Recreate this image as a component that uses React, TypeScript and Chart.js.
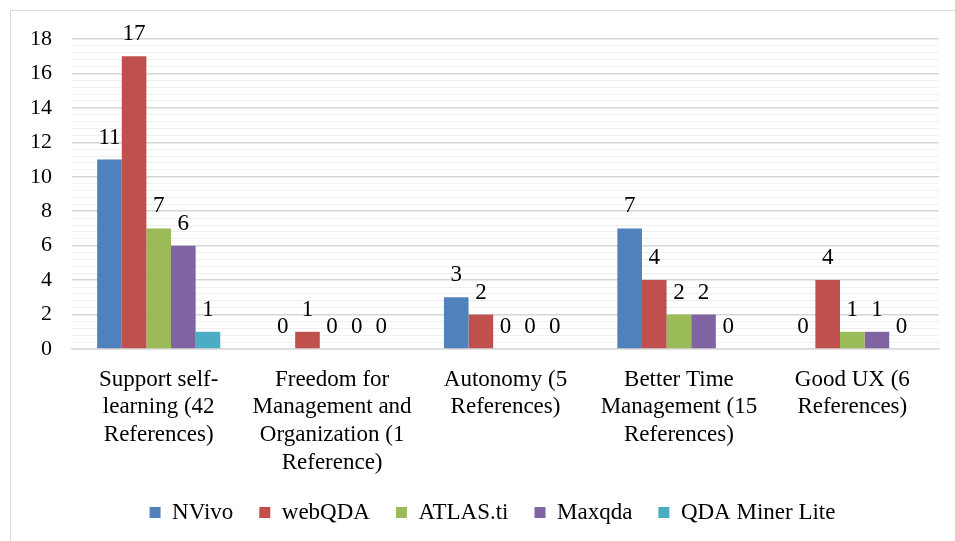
import React, { useEffect, useRef } from "react";
import { Chart, registerables } from "chart.js";

Chart.register(...registerables);

const categories: string[][] = [
  ["Support self-", "learning (42", "References)"],
  ["Freedom for", "Management and", "Organization (1", "Reference)"],
  ["Autonomy (5", "References)"],
  ["Better Time", "Management (15", "References)"],
  ["Good UX (6", "References)"],
];
const seriesNames = ["NVivo", "webQDA", "ATLAS.ti", "Maxqda", "QDA Miner Lite"];
const nvivo = [11, 0, 3, 7, 0];
const webqda = [17, 1, 2, 4, 4];
const atlas = [7, 0, 0, 2, 1];
const maxqda = [6, 0, 0, 2, 1];
const qdaMiner = [1, 0, 0, 0, 0];
const colors = ["#4F81BD", "#C0504D", "#9BBB59", "#8064A2", "#4BACC6"];
const yMin = 0;
const yMax = 18;
const minorStep = 0.4;
const majorStep = 2;

const FONT = "'Liberation Serif', 'Times New Roman', serif";

const isMajor = (v: number) => Math.abs(v / majorStep - Math.round(v / majorStep)) < 1e-6;

const valueLabels = {
  id: "valueLabels",
  afterDatasetsDraw(chart: any) {
    const ctx = chart.ctx;
    ctx.save();
    ctx.font = `23px ${FONT}`;
    ctx.fillStyle = "#000";
    ctx.textAlign = "center";
    ctx.textBaseline = "alphabetic";
    chart.data.datasets.forEach((ds: any, i: number) => {
      const meta = chart.getDatasetMeta(i);
      meta.data.forEach((bar: any, j: number) => {
        ctx.fillText(String(ds.data[j]), bar.x, bar.y - 16);
      });
    });
    ctx.restore();
  },
};

const legendShift = {
  id: "legendShift",
  afterLayout(chart: any) {
    if (chart.legend) {
      chart.legend.left += 18;
      chart.legend.right += 18;
    }
  },
};

export default function App() {
  const ref = useRef<HTMLCanvasElement>(null);
  useEffect(() => {
    if (!ref.current) return;
    const all = [nvivo, webqda, atlas, maxqda, qdaMiner];
    const chart = new Chart(ref.current, {
      type: "bar",
      data: {
        labels: categories,
        datasets: all.map((d, i) => ({
          label: seriesNames[i],
          data: d,
          backgroundColor: colors[i],
          borderWidth: 0,
          barPercentage: 1,
          categoryPercentage: 0.71,
        })),
      },
      options: {
        animation: false,
        responsive: false,
        maintainAspectRatio: false,
        layout: { padding: { left: 10, right: 16, top: 39, bottom: 7 } },
        plugins: {
          legend: {
            position: "bottom",
            labels: {
              font: { family: FONT, size: 23 },
              color: "#000",
              boxWidth: 11,
              boxHeight: 11,
              padding: 26,
            },
          },
          tooltip: { enabled: false },
        },
        scales: {
          x: {
            grid: { display: false },
            border: { display: true, color: "#d9d9d9", width: 1.5 },
            ticks: {
              font: { family: FONT, size: 23 },
              color: "#000",
              maxRotation: 0,
              autoSkip: false,
              padding: 9,
            },
            afterFit: (s: any) => {
              s.height = 126;
            },
          },
          y: {
            min: yMin,
            max: yMax,
            border: { display: false },
            grid: {
              color: (c: any) => (isMajor(c.tick.value) ? "#d6d6d6" : "#efefef"),
              lineWidth: (c: any) => (isMajor(c.tick.value) ? 1.5 : 1),
              drawTicks: false,
            },
            ticks: {
              stepSize: minorStep,
              maxTicksLimit: 100,
              autoSkip: false,
              font: { family: FONT, size: 22 },
              color: "#000",
              padding: 20,
              callback: (v: any) => (isMajor(Number(v)) ? String(Math.round(Number(v))) : ""),
            },
            afterFit: (s: any) => {
              s.width = 62;
            },
          },
        },
      },
      plugins: [valueLabels, legendShift],
    });
    return () => chart.destroy();
  }, []);
  return (
    <div
      style={{
        position: "fixed",
        left: 0,
        top: 0,
        width: 955,
        height: 541,
        overflow: "hidden",
        background: "#fff",
      }}
    >
      <div
        style={{
          position: "absolute",
          left: 10,
          top: 10,
          width: 960,
          height: 560,
          border: "1px solid #d9d9d9",
        }}
      />
      <canvas ref={ref} width={955} height={541} style={{ position: "absolute", left: 0, top: 0 }} />
    </div>
  );
}
